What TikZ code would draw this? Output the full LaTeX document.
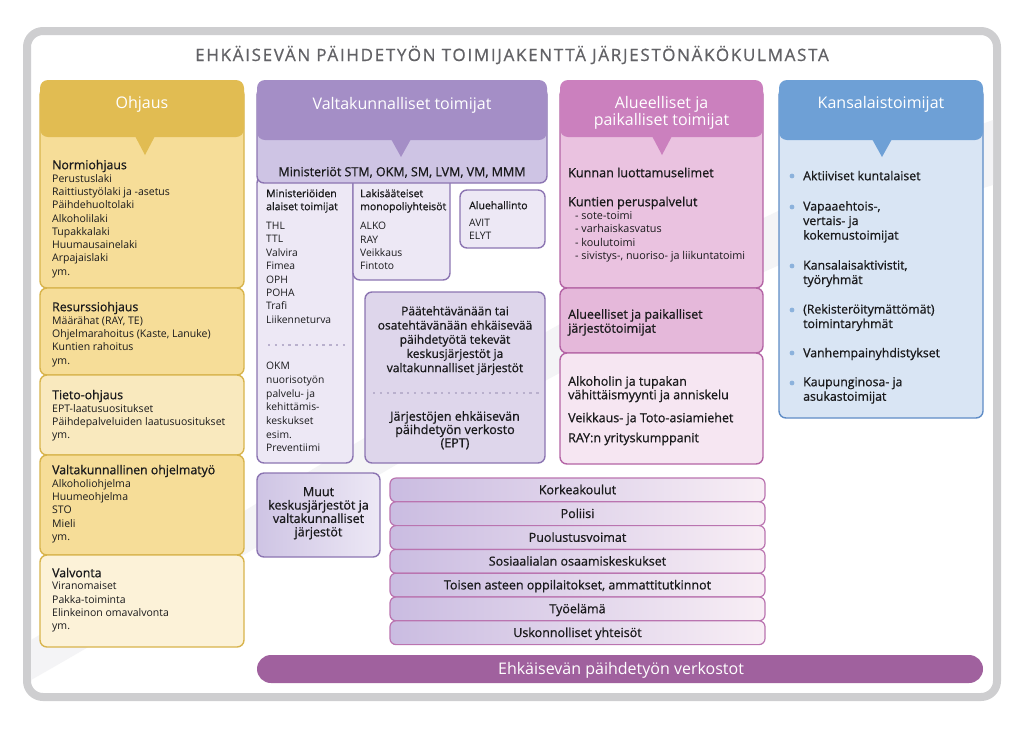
\documentclass[tikz,border=0pt]{standalone}
\usepackage{fontspec}
\setmainfont{Open Sans}
\newfontfamily\medfont[FakeBold=0.8]{Open Sans}

\definecolor{frameGray}{RGB}{206,206,208}
\definecolor{titleGray}{RGB}{98,98,102}
\definecolor{swooshGray}{RGB}{244,244,246}
\definecolor{inkDark}{RGB}{26,26,28}
\definecolor{ohjHead}{RGB}{225,188,82}
\definecolor{ohjLine}{RGB}{216,180,76}
\definecolor{ohjCardA}{RGB}{246,221,152}
\definecolor{ohjCardB}{RGB}{249,233,190}
\definecolor{ohjCardC}{RGB}{252,242,216}
\definecolor{valHead}{RGB}{164,142,198}
\definecolor{valBand}{RGB}{206,196,228}
\definecolor{valBox}{RGB}{237,232,245}
\definecolor{valBoxDark}{RGB}{222,214,235}
\definecolor{valLine}{RGB}{140,117,178}
\definecolor{dotGray}{RGB}{185,176,205}
\definecolor{aluHead}{RGB}{203,128,190}
\definecolor{aluCardA}{RGB}{234,194,224}
\definecolor{aluCardB}{RGB}{229,184,218}
\definecolor{aluCardC}{RGB}{246,230,242}
\definecolor{aluLine}{RGB}{180,100,165}
\definecolor{kanHead}{RGB}{110,160,214}
\definecolor{kanBox}{RGB}{217,229,244}
\definecolor{kanLine}{RGB}{95,140,198}
\definecolor{kanDot}{RGB}{140,178,220}
\definecolor{rowLeft}{RGB}{202,188,225}
\definecolor{rowRight}{RGB}{248,238,245}
\definecolor{rowLine}{RGB}{186,116,176}
\definecolor{barPurple}{RGB}{160,97,158}

\newcommand\fs[2]{\fontsize{#1}{#2}\selectfont}
\newcommand\ohjx{52}
\newcommand\ohjblock[4]{
  \node[grouphead] (#1-head) at (\ohjx,#2-10) {#3};
  \node[grouplist] (#1-list) at (\ohjx,#2+5) {#4};
}
\newcommand\pointer[4]{
  \fill[#1] (#2-10,#3-1) -- (#2,#4) -- (#2+10,#3-1) -- cycle;
}

\tikzset{
  card/.style={rounded corners=7pt, line width=1.4pt},
  headfill/.style={rounded corners=8pt},
  headtitle/.style={text=white, font=\fs{16}{15}, align=center, inner sep=0pt, anchor=base},
  txt/.style={inner sep=0pt, text=inkDark, execute at begin node={\rule{0pt}{10pt}}},
  grouphead/.style={txt, anchor=north west, align=left, font=\medfont\fs{12.3}{13}},
  grouplist/.style={txt, anchor=north west, align=left, font=\fs{10.5}{13.3}},
  midtext/.style={txt, anchor=north, align=center, font=\medfont\fs{12.5}{14}},
  dotrule/.style={line width=2.4pt, dash pattern=on 2.4pt off 4.4pt, draw=dotGray},
  rowbox/.style={rounded corners=6pt, line width=1.2pt, draw=rowLine, left color=rowLeft, right color=rowRight},
}

\begin{document}
\begin{tikzpicture}[x=1pt, y=-1pt]
  \useasboundingbox (0,0) rectangle (1024,729);
  \draw[line width=8pt, frameGray, fill=white, rounded corners=16pt] (27,31) rectangle (997,697);
  \fill[swooshGray] (31,640) .. controls (320,470) and (640,250) .. (993,120) -- (993,185)
    .. controls (650,290) and (330,510) .. (31,680) -- cycle;
  \node[font=\medfont\addfontfeature{LetterSpace=10}\fs{17}{17}, text=titleGray, anchor=base] (title) at (512,61)
    {EHKÄISEVÄN PÄIHDETYÖN TOIMIJAKENTTÄ JÄRJESTÖNÄKÖKULMASTA};

  % Ohjaus
  \draw[card, draw=ohjLine, fill=ohjCardA] (40,88) rectangle (244,288);
  \draw[card, draw=ohjLine, fill=ohjCardA] (40,288) rectangle (244,375);
  \draw[card, draw=ohjLine, fill=ohjCardB] (40,375) rectangle (244,455);
  \draw[card, draw=ohjLine, fill=ohjCardA] (40,455) rectangle (244,555);
  \draw[card, draw=ohjLine, fill=ohjCardC] (40,555) rectangle (244,647);
  \fill[headfill, ohjHead] (40,80) rectangle (244,137);
  \pointer{ohjHead}{145}{137}{155}
  \node[headtitle] (ohjaus) at (142,108) {Ohjaus};
  \ohjblock{normi}{169}{Normiohjaus}{Perustuslaki\\Raittiustyölaki ja -asetus\\Päihdehuoltolaki\\Alkoholilaki\\Tupakkalaki\\Huumausainelaki\\Arpajaislaki\\ym.}
  \ohjblock{resurssi}{311}{Resurssiohjaus}{Määrähat (RAY, TE)\\Ohjelmarahoitus (Kaste, Lanuke)\\Kuntien rahoitus\\ym.}
  \ohjblock{tieto}{399}{Tieto-ohjaus}{EPT-laatusuositukset\\Päihdepalveluiden laatusuositukset\\ym.}
  \ohjblock{ohjelma}{474}{Valtakunnallinen ohjelmatyö}{Alkoholiohjelma\\Huumeohjelma\\STO\\Mieli\\ym.}
  \ohjblock{valvonta}{577}{Valvonta}{Viranomaiset\\Pakka-toiminta\\Elinkeinon omavalvonta\\ym.}

  % Valtakunnalliset toimijat
  \draw[card, draw=valLine, fill=valBox] (257,176) rectangle (353,463);
  \draw[card, draw=valLine, fill=valBox] (353,176) rectangle (450,280);
  \draw[card, draw=valLine, fill=valBox] (460,190) rectangle (545,248);
  \draw[card, draw=valLine, fill=valBoxDark] (365,292) rectangle (545,463);
  \draw[card, draw=valLine, left color=valBand, right color=valBox] (257,473) rectangle (380,557);
  \draw[card, draw=valLine, fill=valBand] (257,88) rectangle (547,183);
  \fill[headfill, valHead] (257,80) rectangle (547,140);
  \pointer{valHead}{401}{140}{157}
  \node[headtitle] (valtak) at (402,109) {Valtakunnalliset toimijat};
  \node[midtext] (ministeriot) at (402,166) {Ministeriöt STM, OKM, SM, LVM, VM, MMM};
  \node[grouphead, font=\medfont\fs{10.5}{13}] (alaiset-head) at (266,189) {Ministeriöiden\\alaiset toimijat};
  \node[grouplist, font=\fs{10.3}{13.4}] (alaiset-list) at (266,222) {THL\\TTL\\Valvira\\Fimea\\OPH\\POHA\\Trafi\\Liikenneturva};
  \draw[dotrule] (268,345) -- (348,345);
  \node[grouplist, font=\fs{10.3}{13.7}] (okm-list) at (266,362) {OKM\\nuorisotyön\\palvelu- ja\\kehittämis-\\keskukset\\esim.\\Preventiimi};
  \node[grouphead, font=\medfont\fs{10.5}{13}] (monopoli-head) at (360,189) {Lakisääteiset\\monopoliyhteisöt};
  \node[grouplist, font=\fs{10.3}{13.4}] (monopoli-list) at (360,222) {ALKO\\RAY\\Veikkaus\\Fintoto};
  \node[grouphead, font=\medfont\fs{10.5}{13}] (alue-head) at (469,199) {Aluehallinto};
  \node[grouplist, font=\fs{10.3}{13.3}] (alue-list) at (469,219) {AVIT\\ELYT};
  \node[midtext, font=\medfont\fs{12}{14.2}] (paatehtava) at (455,306)
    {Päätehtävänään tai\\osatehtävänään ehkäisevää\\päihdetyötä tekevät\\keskusjärjestöt ja\\valtakunnalliset järjestöt};
  \draw[dotrule] (373,393) -- (540,393);
  \node[midtext, font=\medfont\fs{12.5}{13.3}] (ept) at (455,411)
    {Järjestöjen ehkäisevän\\päihdetyön verkosto\\(EPT)};
  \node[midtext, font=\medfont\fs{12.5}{13.4}] (muut) at (318.5,487)
    {Muut\\keskusjärjestöt ja\\valtakunnalliset\\järjestöt};

  % Alueelliset ja paikalliset toimijat
  \draw[card, draw=aluLine, fill=aluCardA] (560,88) rectangle (763,288);
  \draw[card, draw=aluLine, fill=aluCardB] (560,288) rectangle (763,353);
  \draw[card, draw=aluLine, fill=aluCardC] (560,353) rectangle (763,464);
  \fill[headfill, aluHead] (560,80) rectangle (763,137);
  \pointer{aluHead}{662}{137}{155}
  \node[headtitle] (alueelliset) at (661.5,125) {Alueelliset ja\\paikalliset toimijat};
  \node[grouphead, font=\medfont\fs{12.6}{14}] (luottamus) at (568,167) {Kunnan luottamuselimet};
  \node[grouphead, font=\medfont\fs{12.6}{14}] (perus-head) at (568,196) {Kuntien peruspalvelut};
  \node[grouplist, font=\fs{10.8}{13.5}] (perus-list) at (575,211)
    {- sote-toimi\\- varhaiskasvatus\\- koulutoimi\\- sivistys-, nuoriso- ja liikuntatoimi};
  \node[grouphead, font=\medfont\fs{12.5}{14}] (jarjesto) at (568,309) {Alueelliset ja paikalliset\\järjestötoimijat};
  \node[grouphead, font=\medfont\fs{12.5}{13.5}] (alkoholi) at (568,376) {Alkoholin ja tupakan\\vähittäismyynti ja anniskelu};
  \node[grouphead, font=\medfont\fs{12.5}{13.5}] (veikkaus) at (568,412) {Veikkaus- ja Toto-asiamiehet};
  \node[grouphead, font=\medfont\fs{12.5}{13.5}] (ray) at (568,432) {RAY:n yrityskumppanit};

  % Kansalaistoimijat
  \draw[card, draw=kanLine, fill=kanBox] (779,88) rectangle (983,418);
  \fill[headfill, kanHead] (779,80) rectangle (983,140);
  \pointer{kanHead}{882}{140}{157}
  \node[headtitle] (kansalais) at (881,108) {Kansalaistoimijat};
  \foreach \n/\yy/\txt in {1/180/Aktiiviset kuntalaiset, 2/211/{Vapaaehtois-,\\vertais- ja\\kokemustoimijat},
      3/270/{Kansalaisaktivistit,\\työryhmät}, 4/314/{(Rekisteröitymättömät)\\toimintaryhmät},
      5/357/Vanhempainyhdistykset, 6/387/{Kaupunginosa- ja\\asukastoimijat}} {
    \fill[kanDot] (792,\yy-4) circle[radius=2.4pt];
    \node[grouphead, font=\medfont\fs{12.3}{14.5}] (kan\n) at (803,\yy-10) {\txt};
  }

  % verkostot
  \foreach \i/\txt in {0/Korkeakoulut, 1/Poliisi, 2/Puolustusvoimat, 3/Sosiaalialan osaamiskeskukset,
      4/{Toisen asteen oppilaitokset, ammattitutkinnot}, 5/Työelämä, 6/Uskonnolliset yhteisöt} {
    \draw[rowbox] (390,478+23.8*\i) rectangle (765,501.8+23.8*\i);
    \node[midtext] (row\i) at (577.5,484+23.8*\i) {\txt};
  }
  \fill[barPurple, rounded corners=14pt] (257,655) rectangle (983,683);
  \node[font=\fs{16}{17}, text=white, anchor=base] (verkostot) at (621,674) {Ehkäisevän päihdetyön verkostot};
\end{tikzpicture}
\end{document}
